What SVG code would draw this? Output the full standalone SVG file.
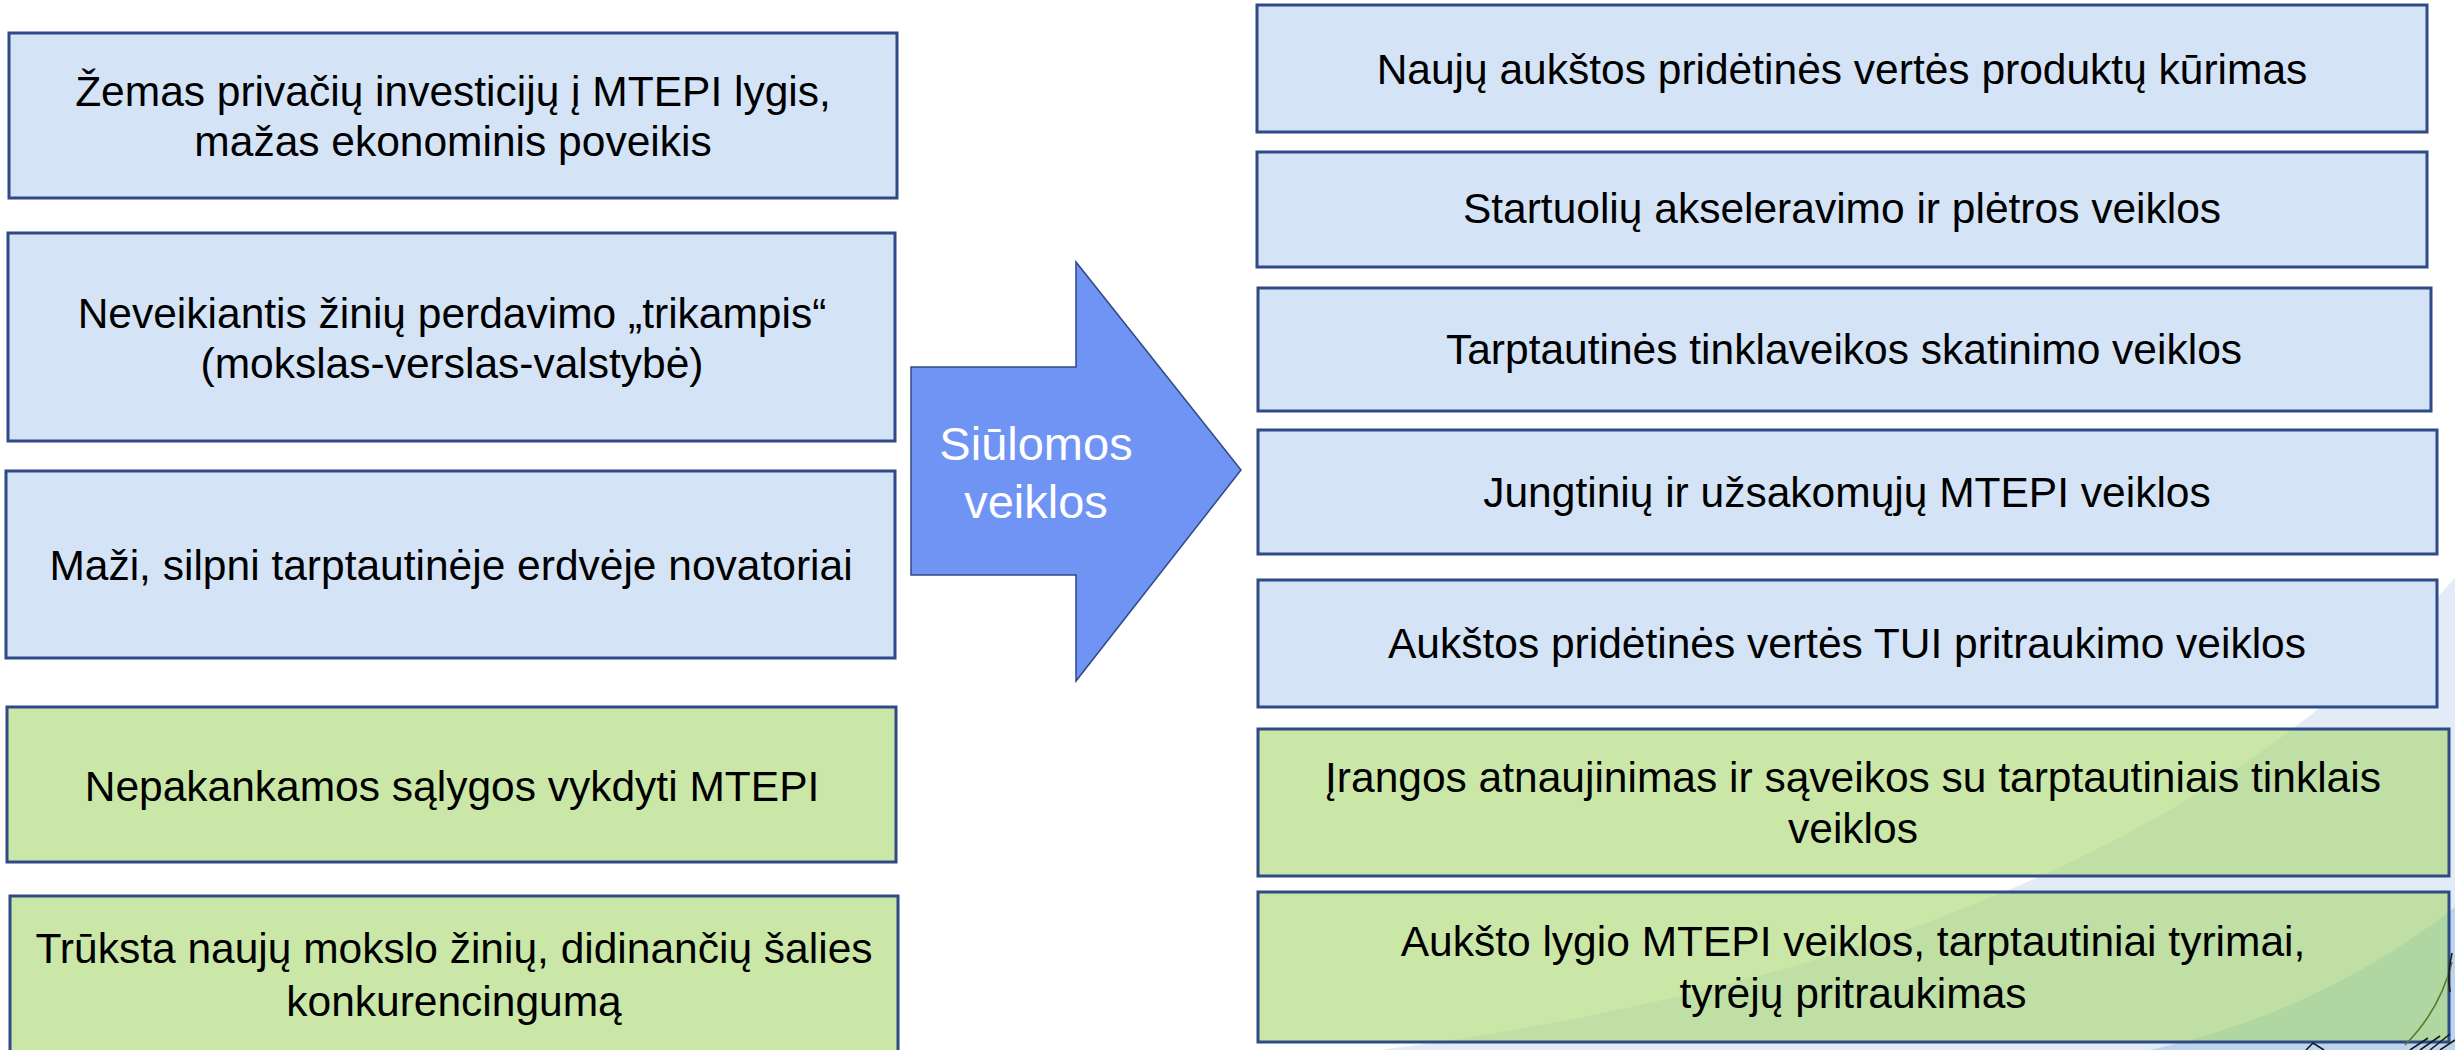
<svg xmlns="http://www.w3.org/2000/svg" width="2455" height="1050" viewBox="0 0 2455 1050">
<style>
.box{stroke:#2F4A86;stroke-width:3}
.blue{fill:#D4E3F5}
.green{fill:#A9D873;fill-opacity:0.62}
.t{font-family:"Liberation Sans",Arial,sans-serif;font-size:42.5px;fill:#000;text-anchor:middle}
.at{font-family:"Liberation Sans",Arial,sans-serif;font-size:47px;fill:#FFFFFF;text-anchor:middle}
.deco{fill:none;stroke:#1a1a1a;stroke-width:1.6}
</style>
<rect x="0" y="0" width="2455" height="1050" fill="#FFFFFF"/>
<g id="background">
<path d="M1380 1050 Q2150 950 2470 560 L2470 1060 L1380 1060 Z" fill="#E3EBF6"/>
<path d="M2150 1050 Q2330 1010 2470 895 L2470 1060 L2150 1060 Z" fill="#BCD4EE"/>
</g>
<g id="node-l1"><rect class="box blue" x="9" y="33" width="888" height="165"/>
<text class="t" x="453" y="106">Žemas privačių investicijų į MTEPI lygis,</text>
<text class="t" x="453" y="156">mažas ekonominis poveikis</text></g>
<g id="node-l2"><rect class="box blue" x="8" y="233" width="887" height="208"/>
<text class="t" x="452" y="328">Neveikiantis žinių perdavimo „trikampis“</text>
<text class="t" x="452" y="378">(mokslas-verslas-valstybė)</text></g>
<g id="node-l3"><rect class="box blue" x="6" y="471" width="889" height="187"/>
<text class="t" x="451" y="580">Maži, silpni tarptautinėje erdvėje novatoriai</text></g>
<g id="node-l4"><rect class="box green" x="7" y="707" width="889" height="155"/>
<text class="t" x="452" y="801">Nepakankamos sąlygos vykdyti MTEPI</text></g>
<g id="node-l5"><rect class="box green" x="10" y="896" width="888" height="180"/>
<text class="t" x="454" y="963">Trūksta naujų mokslo žinių, didinančių šalies</text>
<text class="t" x="454" y="1016">konkurencingumą</text></g>
<g id="node-arrow"><polygon points="911,367 1076,367 1076,262 1241,470 1076,681 1076,575 911,575" fill="#7094F4" stroke="#2F4A86" stroke-width="1.5"/>
<text class="at" x="1036" y="460">Siūlomos</text>
<text class="at" x="1036" y="518">veiklos</text></g>
<g id="node-r1"><rect class="box blue" x="1257" y="5" width="1170" height="127"/>
<text class="t" x="1842" y="84">Naujų aukštos pridėtinės vertės produktų kūrimas</text></g>
<g id="node-r2"><rect class="box blue" x="1257" y="152" width="1170" height="115"/>
<text class="t" x="1842" y="223">Startuolių akseleravimo ir plėtros veiklos</text></g>
<g id="node-r3"><rect class="box blue" x="1258" y="288" width="1173" height="123"/>
<text class="t" x="1844" y="364">Tarptautinės tinklaveikos skatinimo veiklos</text></g>
<g id="node-r4"><rect class="box blue" x="1258" y="430" width="1179" height="124"/>
<text class="t" x="1847" y="507">Jungtinių ir užsakomųjų MTEPI veiklos</text></g>
<g id="node-r5"><rect class="box blue" x="1258" y="580" width="1179" height="127"/>
<text class="t" x="1847" y="658">Aukštos pridėtinės vertės TUI pritraukimo veiklos</text></g>
<g id="node-r6"><rect class="box green" x="1258" y="729" width="1191" height="147"/>
<text class="t" x="1853" y="792">Įrangos atnaujinimas ir sąveikos su tarptautiniais tinklais</text>
<text class="t" x="1853" y="843">veiklos</text></g>
<g id="node-r7"><rect class="box green" x="1258" y="892" width="1191" height="150"/>
<text class="t" x="1853" y="956">Aukšto lygio MTEPI veiklos, tarptautiniai tyrimai,</text>
<text class="t" x="1853" y="1008">tyrėjų pritraukimas</text></g>
<g id="connectors"></g>
<g id="decor">
<path d="M2452 962 Q2440 1010 2405 1045" fill="none" stroke="#5A7A2A" stroke-width="1.6"/>
<path class="deco" d="M2452 953 Q2447 975 2450 992"/>
<path class="deco" d="M2306 1050 L2313 1043 L2324 1050"/>
<path class="deco" d="M2410 1050 L2428 1038 M2420 1050 L2440 1036 M2430 1050 L2450 1034 M2440 1050 L2455 1040"/>
</g>
</svg>
